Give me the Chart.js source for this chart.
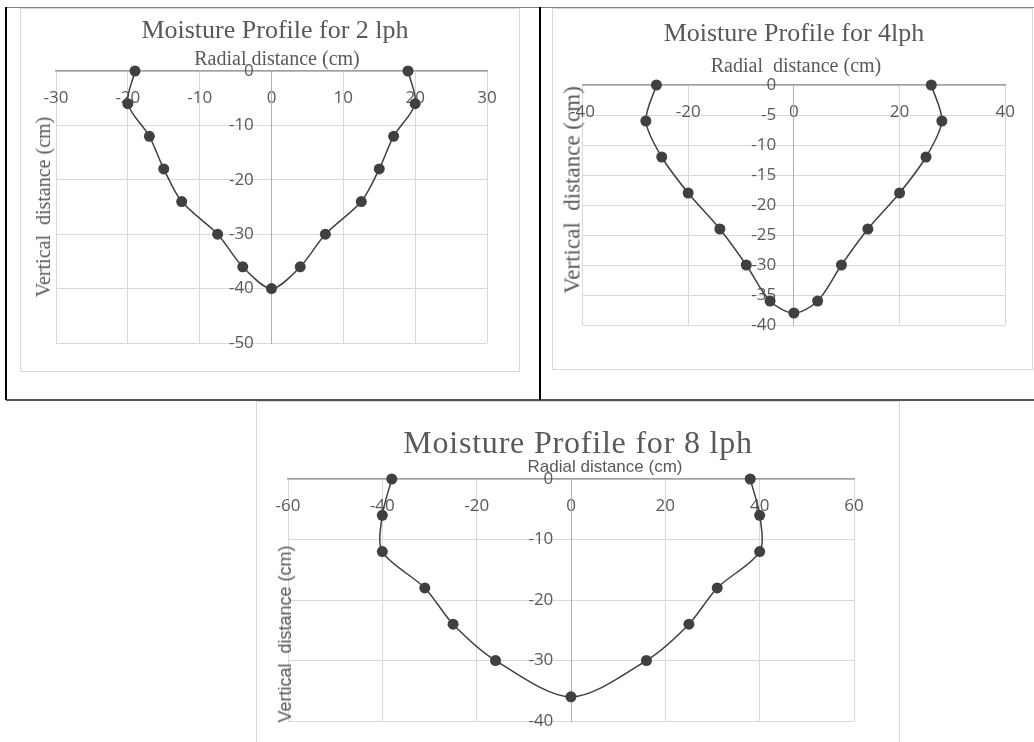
<!DOCTYPE html>
<html>
<head>
<meta charset="utf-8">
<script src="https://cdn.jsdelivr.net/npm/chart.js@4.4.1/dist/chart.umd.min.js"></script>
<style>
  html, body { margin: 0; padding: 0; background: #fff; }
  body { width: 1034px; height: 742px; position: relative; overflow: hidden; }
  .rule { position: absolute; }
  .frame { position: absolute; border: 1px solid #d9d9d9; box-sizing: border-box; background: #fff; }
  .frame canvas { position: absolute; left: 0; top: 0; }
  .txt { position: absolute; line-height: 1; white-space: pre; color: #595959; transform: translate(-50%, -50%); }
  .serif { font-family: "Liberation Serif", "Times New Roman", serif; }
  .sans { font-family: "Liberation Sans", Arial, sans-serif; }
  .rot { transform: translate(-50%, -50%) rotate(-90deg); }
</style>
</head>
<body>

<!-- outer figure rules -->
<div class="rule" style="left:6px;top:7px;width:1028px;height:1px;background:#808080"></div>
<div class="rule" style="left:6px;top:399px;width:1028px;height:2px;background:#555"></div>
<div class="rule" style="left:5px;top:7px;width:2px;height:393px;background:#000"></div>
<div class="rule" style="left:539px;top:7px;width:2px;height:393px;background:#000"></div>

<div class="frame" style="left:20px;top:8px;width:500px;height:364px"><canvas id="chart2"></canvas></div>
<div class="frame" style="left:552px;top:8px;width:481px;height:362px"><canvas id="chart4"></canvas></div>
<div class="frame" style="left:256px;top:401px;width:644px;height:345px"><canvas id="chart8"></canvas></div>

<div class="txt serif" style="left:275px;top:30px;font-size:26px">Moisture Profile for 2 lph</div>
<div class="txt serif" style="left:277px;top:58px;font-size:20px">Radial distance (cm)</div>
<div class="txt serif rot" style="left:43px;top:207px;font-size:20px">Vertical  distance (cm)</div>

<div class="txt serif" style="left:794px;top:33px;font-size:26px">Moisture Profile for 4lph</div>
<div class="txt serif" style="left:796px;top:65px;font-size:20px">Radial  distance (cm)</div>
<div class="txt serif rot" style="left:572px;top:190px;font-size:23px">Vertical  distance (cm)</div>

<div class="txt serif" style="left:578px;top:442px;font-size:32px;letter-spacing:0.8px">Moisture Profile for 8 lph</div>
<div class="txt sans" style="left:605px;top:466px;font-size:17px">Radial distance (cm)</div>
<div class="txt sans rot" style="left:285px;top:634px;font-size:18px">Vertical  distance (cm)</div>

<script>
// Values (radial x, depth y), cm
var radial2 = [-19, -20, -17, -15, -12.5, -7.5, -4, 0, 4, 7.5, 12.5, 15, 17, 20, 19];
var depth2 = [0, -6, -12, -18, -24, -30, -36, -40, -36, -30, -24, -18, -12, -6, 0];

var radial4 = [-26, -28, -25, -20, -14, -9, -4.5, 0, 4.5, 9, 14, 20, 25, 28, 26];
var depth4 = [0, -6, -12, -18, -24, -30, -36, -38, -36, -30, -24, -18, -12, -6, 0];

var radial8 = [-38, -40, -40, -31, -25, -16, 0, 16, 25, 31, 40, 40, 38];
var depth8 = [0, -6, -12, -18, -24, -30, -36, -30, -24, -18, -12, -6, 0];

var tickFont = { family: '"Open Sans", "Liberation Sans", sans-serif', size: 17 };
var tickColor = '#595959';
var gridColor = '#d9d9d9';
var lineColor = '#404040';

/**
 * Pair up x and y arrays into scatter points
 */
function toPoints(xs, ys) {
    var points = [];
    for (var i = 0; i < xs.length; i++) {
        points.push({ x: xs[i], y: ys[i] });
    }
    return points;
}

/**
 * Create one profile chart, axes crossing at the origin like Excel
 */
function createProfile(ctx, points, xRange, yRange, padding) {
    return new Chart(ctx, {
        type: 'scatter',
        data: {
            datasets: [{
                data: points,
                showLine: true,
                tension: 0.3,
                borderColor: lineColor,
                borderWidth: 1.5,
                pointRadius: 5.5,
                pointBackgroundColor: lineColor,
                pointBorderWidth: 0,
                clip: false
            }]
        },
        options: {
            animation: false,
            responsive: true,
            maintainAspectRatio: false,
            events: [],
            layout: { padding: padding },
            plugins: {
                legend: { display: false },
                tooltip: { enabled: false }
            },
            scales: {
                x: {
                    type: 'linear',
                    position: { y: 0 },
                    min: xRange[0],
                    max: xRange[1],
                    ticks: {
                        stepSize: xRange[2],
                        padding: 17,
                        color: tickColor,
                        font: tickFont,
                        maxRotation: 0
                    },
                    grid: { color: gridColor, drawTicks: false },
                    border: { color: '#a0a0a0', width: 1.5 }
                },
                y: {
                    type: 'linear',
                    position: { x: 0 },
                    min: yRange[0],
                    max: yRange[1],
                    ticks: {
                        stepSize: yRange[2],
                        color: tickColor,
                        font: tickFont,
                        // axis sits inside the plot, so pad the label off the line
                        callback: function(value) {
                            return value + '    ';
                        }
                    },
                    grid: { color: gridColor, drawTicks: false },
                    border: { color: '#b0b0b0', width: 1 }
                }
            }
        }
    });
}

var charts = [];
charts.push(createProfile(document.getElementById('chart2').getContext('2d'),
    toPoints(radial2, depth2), [-30, 30, 10], [-50, 0, 10],
    { left: 35, right: 32, top: 62, bottom: 28 }));

charts.push(createProfile(document.getElementById('chart4').getContext('2d'),
    toPoints(radial4, depth4), [-40, 40, 20], [-40, 0, 5],
    { left: 28, right: 22, top: 76, bottom: 44 }));

charts.push(createProfile(document.getElementById('chart8').getContext('2d'),
    toPoints(radial8, depth8), [-60, 60, 20], [-40, 0, 10],
    { left: 31, right: 45, top: 77, bottom: 24 }));
</script>
</body>
</html>
